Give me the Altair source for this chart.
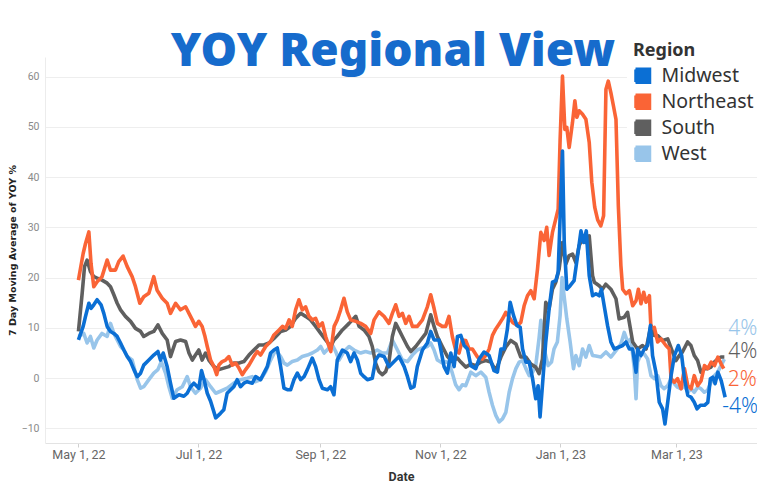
import altair as alt
import pandas as pd

START = pd.Timestamp("2022-05-01")
REGIONS = ["Midwest", "Northeast", "South", "West"]
COLORS = ["#0b6fd4", "#fa6436", "#5f5f5f", "#98c5ea"]
DRAW_ORDER = ["West", "South", "Northeast", "Midwest"]
LABEL_DY = {"West": -30, "South": -5, "Northeast": 11, "Midwest": 10}

# day offsets from May 1, 2022 and 7-day moving average YOY % values
mw_days = [0, 2.4, 3.6, 5.3, 6.4, 7.8, 9.5, 11.5, 12.9, 14.6, 16.3, 18.0, 19.7, 21.4, 23.1, 24.8, 26.5, 28.2, 29.9,
           31.6, 33.2, 35.8, 38.3, 40.4, 41.7, 43.1, 45.1, 46.8, 48.5, 51.1, 53.6, 55.3, 57.0, 58.7, 61.2, 62.6, 64.0,
           65.5, 67.2, 69.8, 72.2, 73.9, 75.6, 77.4, 79.0, 80.7, 82.4, 84.1, 85.8, 88.4, 90.1, 92.6, 94.3, 96.0, 97.7,
           99.4, 101.1, 102.8, 104.5, 106.2, 107.9, 109.6, 111.3, 113.0, 114.7, 116.4, 118.9, 120.6, 122.3, 124.0,
           126.6, 128.2, 129.9, 131.6, 134.2, 136.7, 138.4, 140.1, 141.8, 143.5, 145.2, 146.9, 149.4, 151.1, 152.8,
           155.4, 157.9, 160.5, 163.0, 165.6, 167.3, 169.0, 170.6, 172.3, 174.9, 177.4, 179.1, 180.8, 183.3, 185.9,
           187.6, 189.3, 191.0, 192.7, 194.4, 196.1, 197.8, 199.5, 202.0, 203.7, 206.2, 208.8, 211.3, 213.0, 214.8,
           216.4, 218.1, 219.5, 221.2, 222.9, 224.6, 225.8, 227.5, 229.2, 230.9, 232.5, 233.7, 234.7, 235.9, 237.6,
           239.3, 241.0, 242.7, 243.9, 245.3, 246.1, 247.0, 248.3, 250.0, 252.0, 253.8, 255.5, 256.8, 258.2, 259.7,
           261.4, 263.1, 264.8, 265.9, 267.3, 269.0, 270.7, 272.4, 274.9, 276.7, 278.4, 280.1, 281.8, 283.5, 284.3,
           286.0, 287.7, 289.4, 290.8, 291.9, 293.6, 295.3, 297.0, 298.2, 299.6, 301.3, 303.0, 305.0, 306.7, 308.1,
           309.8, 311.5, 313.1, 314.5, 316.2, 318.3, 320.0, 321.3, 322.5, 323.7, 325.1, 326.8, 328.8]
mw_vals = [7.6, 10.3, 12.3, 14.9, 13.9, 14.6, 15.6, 14.6, 12.9, 10.3, 9.3, 8.9, 8.3, 7.0, 5.6, 4.3, 3.3, 1.7, 0.3,
           1.0, 2.6, 3.6, 4.6, 5.3, 3.6, 5.0, 2.3, -1.0, -4.0, -3.3, -3.6, -3.0, -1.7, -1.0, -2.0, 1.5, -0.5,
           -3.0, -4.6, -7.9, -7.0, -6.3, -3.0, -2.3, -1.7, -0.3, -1.7, -1.0, -0.7, -1.0, 0.3, -0.3, 1.0, 2.3, 5.0,
           5.6, 6.0, 2.3, -2.0, -2.3, -2.3, -0.3, 1.0, -0.3, 0.3, 1.7, 4.0, 2.3, -0.3, -2.0,
           -2.3, -1.7, -3.3, 3.6, 5.6, 5.0, 3.3, 5.0, 3.6, 1.0, 0.3, -0.3, 0.0, 3.6, 4.6,
           4.3, 2.3, 3.3, 4.3, 2.3, 0.3, -2.0, -1.7, 2.3, 5.6, 7.0, 9.3, 7.6, 7.6, 2.3,
           1.0, 5.0, 2.3, 8.3, 8.5, 6.5, 5.8, 2.5, 1.9, 3.8, 5.2, 4.5, 1.5, 1.2, 5.8,
           5.8, 9.8, 15.1, 12.5, 10.5, 10.1, 5.8, 3.2, 3.2, -0.1, -4.1, -1.5, -7.7, -1.5, 7.2,
           13.8, 19.1, 19.4, 21.1, 36.3, 45.2, 27.0, 17.7, 18.4, 19.4, 24.4, 29.3, 27.0, 29.3, 20.4,
           16.4, 16.8, 16.4, 17.7, 14.4, 10.5, 7.2, 5.8, 6.2, 6.5, 7.2, 5.8, 5.8, 1.2, 5.8,
           4.5, 5.8, 6.5, 10.5, 4.5, 1.2, -4.8, -6.1, -9.1, -4.8, 0.5, 4.5, 6.5, 4.5, -0.1,
           -3.4, -3.8, -4.8, -6.1, -5.4, -5.4, -4.8, -0.1, 0.2, -1.1, 1.2, -0.5, -3.8]

ne_days = [0, 2.4, 3.6, 5.3, 6.4, 7.8, 9.5, 12.0, 14.6, 16.3, 18.8, 20.5, 22.7, 24.8, 27.3, 29.0, 31.2, 33.2, 35.8,
           38.3, 40.0, 42.6, 45.1, 46.8, 49.4, 51.9, 54.5, 56.2, 57.9, 59.5, 61.2, 62.9, 64.2, 65.5, 67.2, 68.9,
           70.3, 71.4, 73.1, 74.8, 76.5, 78.2, 79.9, 81.6, 83.3, 85.0, 86.7, 89.2, 90.9, 92.6, 95.2, 97.7, 99.4,
           102.0, 103.7, 105.4, 107.1, 108.7, 110.4, 112.1, 113.8, 115.5, 117.2, 118.9, 120.6, 122.3, 124.0, 125.7,
           127.4, 128.3, 130.0, 131.6, 133.3, 135.0, 136.7, 138.4, 141.0, 143.5, 146.0, 148.6, 150.3, 152.8, 155.4,
           157.9, 159.6, 161.3, 163.0, 164.7, 166.4, 168.1, 169.8, 172.3, 174.9, 177.4, 179.1, 180.8, 182.5, 185.0,
           186.7, 188.4, 190.1, 191.8, 193.5, 195.2, 196.9, 198.6, 200.3, 202.9, 205.4, 207.1, 208.8, 210.5, 212.2,
           213.9, 215.6, 217.3, 219.0, 220.7, 223.2, 224.9, 226.6, 228.3, 230.0, 231.7, 233.4, 235.1, 236.8, 238.1,
           239.3, 241.0, 242.7, 243.9, 244.9, 246.1, 247.3, 248.3, 249.5, 251.2, 252.4, 253.4, 254.6, 256.3, 258.0,
           259.7, 261.0, 262.5, 264.0, 265.6, 267.0, 268.2, 269.4, 270.7, 272.0, 273.3, 274.5, 275.8, 276.7, 278.4,
           280.1, 281.8, 283.5, 284.7, 286.0, 287.4, 288.6, 290.3, 291.1, 292.8, 294.5, 296.2, 298.7, 300.4, 301.3,
           303.0, 304.6, 306.4, 308.1, 309.8, 311.5, 313.1, 314.8, 316.6, 318.3, 320.0, 321.7, 323.4, 325.1, 326.8,
           328.1]
ne_vals = [19.5, 24.8, 26.8, 29.1, 22.8, 18.2, 19.2, 20.2, 23.5, 21.5, 21.5, 23.2, 24.3, 22.2, 20.2, 18.2, 14.9, 16.2, 16.9,
           20.2, 17.5, 15.9, 14.9, 12.9, 14.9, 13.6, 14.2, 12.9, 11.6, 10.3, 11.3, 10.3, 8.5, 6.3, 3.6, 2.3,
           0.7, 2.6, 3.3, 3.6, 4.3, 2.6, 3.0, 2.0, 0.7, 1.7, 2.6, 4.3, 5.3, 4.6, 6.3, 7.3, 8.6,
           9.6, 10.3, 9.9, 11.6, 10.3, 13.6, 15.6, 13.6, 14.2, 12.3, 11.6, 11.9, 10.3, 11.0, 8.3,
           6.3, 5.3, 10.3, 11.6, 13.6, 15.9, 13.2, 11.6, 11.3, 10.9, 10.3, 8.9, 11.6, 13.2, 12.3,
           10.9, 12.9, 14.6, 12.3, 12.9, 10.9, 12.3, 10.3, 10.3, 11.6, 14.2, 16.6, 13.9, 10.9, 10.3,
           10.3, 12.3, 8.3, 5.6, 5.0, 7.6, 7.5, 5.8, 5.8, 4.2, 3.8, 4.5, 5.8, 8.5, 9.8,
           10.8, 11.8, 13.1, 12.1, 11.1, 10.5, 11.1, 14.4, 16.4, 17.4, 15.8, 21.7, 29.0, 27.4, 30.0,
           24.4, 29.0, 31.7, 33.6, 47.5, 60.1, 49.5, 49.9, 45.9, 50.9, 55.2, 51.9, 53.2, 52.5, 51.5,
           46.9, 39.0, 34.0, 31.5, 30.3, 32.3, 57.5, 59.1, 56.8, 54.2, 51.5, 34.3, 22.4, 17.7, 16.8,
           17.4, 14.4, 15.4, 17.7, 14.8, 17.1, 15.1, 16.4, 9.8, 10.1, 7.2, 7.8, 6.5, 5.8, -0.1,
           -0.8, -0.1, -2.1, 1.9, -1.5, -2.1, 0.5, -1.5, -0.5, 2.5, 1.9, 3.2, 2.5, 4.2, 2.8,
           1.9]

so_days = [0, 1.9, 3.1, 4.4, 6.1, 7.8, 9.5, 12.0, 14.6, 16.3, 18.0, 19.7, 21.4, 23.9, 26.5, 29.0, 31.6, 33.2, 35.8,
           38.3, 40.4, 42.6, 45.1, 46.8, 49.4, 51.9, 54.5, 56.2, 57.9, 59.5, 61.2, 62.9, 64.6, 66.3, 68.9, 71.4,
           73.9, 76.5, 79.0, 81.6, 84.1, 86.7, 89.2, 91.8, 94.3, 96.9, 99.4, 102.8, 105.4, 107.9, 110.4, 113.0,
           115.5, 118.0, 120.6, 123.2, 125.7, 128.3, 129.9, 131.6, 134.2, 137.6, 141.0, 142.7, 145.2, 147.7, 149.4,
           151.1, 152.8, 154.5, 156.2, 157.9, 159.6, 161.3, 163.0, 164.7, 167.3, 169.0, 171.5, 174.0, 176.6, 179.1,
           180.8, 182.5, 185.0, 187.6, 190.1, 192.7, 194.4, 196.9, 199.5, 202.0, 204.6, 207.1, 209.7, 212.2, 214.8,
           217.3, 219.8, 222.4, 224.9, 227.5, 230.0, 232.5, 234.2, 235.9, 237.6, 239.3, 241.0, 242.7, 244.4, 246.1,
           247.8, 249.5, 251.2, 252.9, 254.6, 256.3, 258.0, 259.7, 261.4, 262.3, 264.8, 266.4, 268.1, 270.7, 273.3,
           274.9, 277.5, 279.2, 281.8, 284.3, 286.8, 288.6, 291.1, 292.8, 294.5, 297.0, 299.6, 302.1, 303.8, 305.5,
           307.1, 309.7, 311.4, 313.1, 314.8, 316.5, 318.2, 319.9, 321.6, 323.3, 325.0, 326.7, 328.4]
so_vals = [9.3, 16.9, 22.2, 23.5, 21.2, 20.2, 19.9, 19.5, 18.9, 18.2, 16.6, 14.9, 13.6, 12.3, 11.3, 9.9, 9.3, 8.3, 8.9,
           9.3, 10.6, 8.9, 7.6, 4.3, 7.3, 7.6, 7.3, 5.0, 3.6, 4.6, 5.6, 3.6, 5.0, 3.6, 2.3, 1.7,
           2.0, 2.3, 3.0, 3.0, 3.3, 4.6, 5.6, 6.6, 6.6, 7.0, 7.9, 9.3, 9.6, 10.3, 11.9, 12.9,
           12.3, 11.6, 10.3, 8.9, 7.6, 6.3, 7.6, 8.3, 9.6, 10.9, 12.3, 10.3, 9.6, 8.3, 6.3,
           3.0, 1.3, 0.7, 1.3, 3.3, 8.3, 10.9, 9.6, 8.3, 6.3, 5.3, 6.3, 7.6, 8.9, 12.6,
           10.3, 8.3, 6.3, 4.3, 3.3, 4.0, 3.2, 2.2, 2.8, 2.5, 3.2, 3.5, 3.2, 1.5, 4.2,
           6.2, 7.5, 6.8, 4.2, 4.2, 2.8, 2.2, 0.9, 3.8, 15.1, 13.8, 17.7, 19.1, 21.7, 27.0,
           22.7, 24.4, 24.7, 23.0, 26.4, 27.7, 27.0, 28.3, 20.4, 19.1, 18.4, 17.7, 18.7, 17.7, 15.8,
           11.8, 12.1, 13.1, 7.2, 5.8, 6.5, 5.8, 10.5, 8.5, 8.5, 7.5, 7.8, 5.2, 3.5, 4.5,
           5.2, 7.2, 6.5, 4.5, 3.5, 1.2, 1.9, 1.9, 2.2, 3.2, 3.8, 4.2, 4.2]

we_days = [0, 2.7, 4.4, 6.1, 7.8, 9.5, 12.0, 14.6, 16.3, 18.0, 19.7, 21.4, 23.1, 24.8, 27.3, 29.9, 31.6, 33.2, 35.8,
           38.3, 40.4, 42.1, 44.3, 46.0, 47.7, 50.2, 52.8, 55.3, 57.0, 59.5, 62.1, 64.6, 67.2, 69.8, 72.2, 75.6,
           79.0, 82.4, 85.8, 88.4, 90.1, 92.6, 95.2, 97.7, 100.3, 102.8, 104.5, 106.2, 108.7, 111.3, 113.8, 116.4,
           118.9, 121.5, 123.2, 124.9, 127.4, 129.1, 130.8, 132.5, 135.0, 137.6, 140.1, 143.5, 146.0, 148.6, 151.9,
           154.5, 157.1, 159.6, 162.2, 164.7, 167.3, 169.8, 172.3, 174.9, 177.4, 179.1, 180.8, 182.5, 185.0, 186.7,
           188.4, 190.1, 191.8, 193.5, 195.2, 196.9, 199.5, 202.0, 204.6, 207.1, 208.8, 210.5, 212.2, 213.9, 215.6,
           217.3, 219.0, 220.7, 222.4, 224.1, 225.8, 227.5, 229.2, 230.9, 232.5, 234.2, 235.1, 236.4, 237.6, 238.8,
           240.5, 241.8, 243.5, 244.9, 245.9, 246.9, 248.3, 250.0, 251.7, 252.9, 254.6, 256.3, 258.0, 259.7, 261.4,
           263.1, 265.6, 268.2, 270.7, 273.3, 275.8, 277.5, 279.2, 280.9, 282.6, 283.5, 284.3, 286.0, 287.7, 289.4,
           291.1, 292.8, 294.5, 296.2, 297.8, 299.6, 301.3, 303.0, 304.6, 306.4, 308.1, 309.8, 311.5, 313.1, 314.8,
           316.5, 318.2, 319.9, 321.6, 323.3, 325.0, 326.7, 328.4]
we_vals = [8.3, 8.9, 7.0, 8.3, 6.0, 7.6, 8.9, 8.3, 10.9, 8.9, 7.6, 6.3, 5.6, 4.3, 3.6, -0.3, -2.0, -1.7, -0.3,
           1.0, 1.7, 3.3, 1.0, -1.7, -4.0, -2.3, -1.7, 0.3, -1.7, -3.0, -2.0, -0.3, -1.7, -3.0, -2.6, -2.0,
           -1.0, -0.3, 0.0, 0.3, -0.7, -0.3, 1.3, 3.6, 5.6, 4.3, 3.0, 2.6, 3.3, 3.6, 4.3, 4.6,
           5.0, 5.6, 6.3, 5.0, 6.0, 6.6, 5.3, 3.6, 5.3, 6.3, 5.6, 5.0, 5.3, 5.0, 5.6,
           5.0, 5.0, 7.6, 5.6, 3.6, 3.3, 4.6, 5.6, 6.0, 6.3, 7.0, 5.6, 3.6, 3.0, 3.3,
           3.0, 1.0, -1.3, -2.3, -1.3, -1.5, 1.2, 0.5, 1.2, 0.2, -2.8, -5.4, -7.4, -8.7, -8.1,
           -6.8, -2.8, -0.1, 1.9, 3.2, 3.5, 1.9, 0.5, 1.2, 2.5, 8.0, 11.5, 6.5, 4.5, 2.5,
           3.2, 5.8, 7.2, 12.5, 20.0, 16.4, 11.8, 7.2, 1.9, 4.5, 2.5, 5.8, 4.2, 6.5, 4.5,
           4.4, 4.2, 5.2, 4.2, 5.5, 6.8, 9.1, 7.2, 7.8, 1.9, -4.1, 3.2, 4.8, 4.8, 3.8,
           0.5, -0.1, 0.5, -1.5, -2.1, -1.5, -0.1, -1.1, -1.8, -2.1, -1.5, -2.8, -2.1, -2.8, -1.8,
           -2.1, -2.8, -2.4, -0.8, 0.5, 1.2, 2.5, 3.8]

tick_dates = ["2022-05-01", "2022-07-01", "2022-09-01", "2022-11-01", "2023-01-01", "2023-03-01"]
y_ticks = [-10, 0, 10, 20, 30, 40, 50, 60]

series = {
    "Midwest": (mw_days, mw_vals),
    "Northeast": (ne_days, ne_vals),
    "South": (so_days, so_vals),
    "West": (we_days, we_vals),
}

rows = []
for region, (days, vals) in series.items():
    for d, v in zip(days, vals):
        rows.append({"Region": region,
                     "Date": (START + pd.Timedelta(days=d)).strftime("%Y-%m-%dT%H:%M:%S"),
                     "YOY": v})
df = pd.DataFrame(rows)

last = []
for region, (days, vals) in series.items():
    last.append({"Region": region,
                 "Date": (START + pd.Timedelta(days=days[-1])).strftime("%Y-%m-%dT%H:%M:%S"),
                 "YOY": vals[-1],
                 "Label": f"{round(vals[-1])}%"})
last_df = pd.DataFrame(last)


def dt(s):
    t = pd.Timestamp(s)
    return alt.DateTime(year=t.year, month=t.month, date=t.day)


x_scale = alt.Scale(domain=[dt("2022-04-14"), dt("2023-04-11")])
y_scale = alt.Scale(domain=[-12.9, 63.9], nice=False, zero=False)
color_scale = alt.Scale(domain=REGIONS, range=COLORS)

x_enc = alt.X("Date:T", scale=x_scale,
              axis=alt.Axis(values=[dt(s) for s in tick_dates], format="%b %-d, %y",
                            title="Date", grid=False, labelFontSize=12.5, labelColor="#666",
                            labelFont="Roboto", titleFont="Roboto", titleFontSize=12.5,
                            titleFontWeight="bold", titleColor="#333", domainColor="#e3e3e3",
                            tickColor="#d0d0d0", tickSize=4, labelPadding=1, titlePadding=10))
y_enc = alt.Y("YOY:Q", scale=y_scale,
              axis=alt.Axis(values=y_ticks, title="7 Day Moving Average of YOY %", grid=True,
                            gridColor="#eeeeee", labelFontSize=10.5, labelColor="#8a8a8a",
                            labelFont="Roboto", titleFont="DejaVu Sans", titleFontSize=9.5,
                            titleFontWeight="bold", titleColor="#222", domainColor="#ececec",
                            ticks=False, labelPadding=6, titleX=-33, titleY=193,
                            titleBaseline="middle", titleAngle=270))

# filled-square legend swatch drawn as a dense serpentine stroke
SWATCH = ("M-0.9,-0.875H0.9V-0.625H-0.9V-0.375H0.9V-0.125H-0.9V0.125H0.9"
          "V0.375H-0.9V0.625H0.9V0.875H-0.9")

legend = alt.Legend(title="Region", orient="none", legendX=582, legendY=-21, fillColor="white",
                    padding=6, symbolType=SWATCH, symbolSize=256, symbolStrokeWidth=2.6,
                    labelFontSize=19.5, labelFont="Noto Sans", labelColor="#333", labelOffset=9,
                    titleFontSize=18, titleFont="Noto Sans", titleFontWeight="bold",
                    titleColor="#333", rowPadding=1, titlePadding=6)

layers = []
for region in DRAW_ORDER:
    layers.append(
        alt.Chart(df).transform_filter(alt.datum.Region == region)
        .mark_line(strokeWidth=3.6, strokeJoin="round")
        .encode(x=x_enc, y=y_enc, color=alt.Color("Region:N", scale=color_scale, legend=legend))
    )
for region in DRAW_ORDER:
    layers.append(
        alt.Chart(last_df).transform_filter(alt.datum.Region == region)
        .mark_text(align="right", baseline="middle", dx=33, dy=LABEL_DY[region], fontSize=21,
                   font="Noto Sans", fontWeight=300)
        .encode(x="Date:T", y="YOY:Q", text="Label:N",
                fill=alt.Fill("Region:N", scale=alt.Scale(domain=REGIONS, range=COLORS), legend=None))
    )

chart = alt.layer(*layers).properties(
    width=712, height=386,
    autosize=alt.AutoSizeParams(type="none"),
    padding={"left": 37, "top": 49, "right": 0, "bottom": 40},
    title=alt.TitleParams("YOY Regional View", fontSize=46, font="Noto Sans", fontWeight=900,
                          color="#166bcc", anchor="middle", frame="group", offset=-40, dx=-8),
).configure_view(strokeWidth=0)

chart.save("out.html", embed_options={"renderer": "svg", "actions": False})
